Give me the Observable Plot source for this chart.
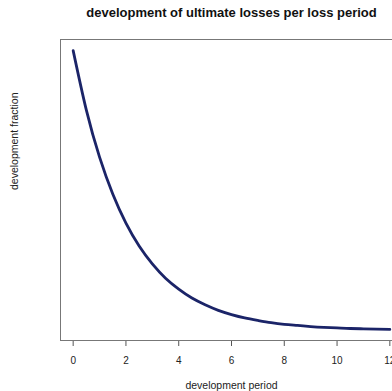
<!DOCTYPE html>
<html>
<head>
<meta charset="utf-8">
<script src="https://cdn.jsdelivr.net/npm/d3@7"></script>
<script src="https://cdn.jsdelivr.net/npm/@observablehq/plot@0.6"></script>
<style>
  html, body { margin: 0; padding: 0; background: #fff; overflow: hidden; }
  #chart { width: 392px; height: 391px; overflow: hidden; }
</style>
</head>
<body>
<div id="chart"></div>
<script>
const title = "development of ultimate losses per loss period";
const xLabel = "development period";
const yLabel = "development fraction";
const xTicks = [0, 2, 4, 6, 8, 10, 12];
const devPeriod = [0, 0.5, 1, 1.5, 2, 2.5, 3, 3.5, 4, 4.5, 5, 5.5, 6, 6.5, 7, 7.5, 8, 8.5, 9, 9.5, 10, 10.5, 11, 11.5, 12];
const devFraction = [1.000, 0.787, 0.619, 0.487, 0.383, 0.301, 0.237, 0.186, 0.147, 0.115, 0.091, 0.071, 0.056, 0.044, 0.035, 0.027, 0.021, 0.017, 0.013, 0.010, 0.008, 0.006, 0.005, 0.004, 0.003];

const data = devPeriod.map((x, i) => ({x, y: devFraction[i]}));

// R-style 4% axis padding
const [x0, x1] = d3.extent(devPeriod);
const [y0, y1] = d3.extent(devFraction);
const px = (x1 - x0) * 0.04, py = (y1 - y0) * 0.04;
const xDom = [x0 - px, x1 + px];
const yDom = [y0 - py, y1 + py];

const font = "'Liberation Sans', Arial, sans-serif";

const plot = Plot.plot({
  width: 392,
  height: 391,
  marginLeft: 60,
  marginRight: 0,
  marginTop: 39,
  marginBottom: 51,
  style: {fontFamily: font, background: "#fff", color: "#111"},
  x: {domain: xDom, range: [60, 402]},
  y: {domain: yDom, range: [340, 39]},
  marks: [
    Plot.axisX(xTicks, {tickSize: 6, tickPadding: 10, fontSize: 10, stroke: "#555", label: null, fill: "#222"}),
    Plot.axisY([], {label: null}),
    Plot.ruleY([yDom[0], yDom[1]], {stroke: "#777", strokeWidth: 1}),
    Plot.ruleX([xDom[0]], {stroke: "#777", strokeWidth: 1}),
    Plot.line(data, {x: "x", y: "y", curve: "natural", stroke: "#1b2468", strokeWidth: 2.8}),
    Plot.text([{x: (x0 + x1) / 2, t: title}], {x: "x", text: "t", frameAnchor: "top", lineAnchor: "bottom", dy: -22.5, fontSize: 13, fontWeight: "bold", fill: "#111"}),
    Plot.text([{x: (x0 + x1) / 2, t: xLabel}], {x: "x", text: "t", frameAnchor: "bottom", lineAnchor: "bottom", dy: 48, fontSize: 10.5, fill: "#222"}),
    Plot.text([{y: (yDom[0] + yDom[1]) / 2, t: yLabel}], {y: "y", text: "t", frameAnchor: "left", lineAnchor: "bottom", rotate: -90, dx: -42.5, fontSize: 10.5, fill: "#222"})
  ]
});
document.getElementById("chart").appendChild(plot);
</script>
</body>
</html>
